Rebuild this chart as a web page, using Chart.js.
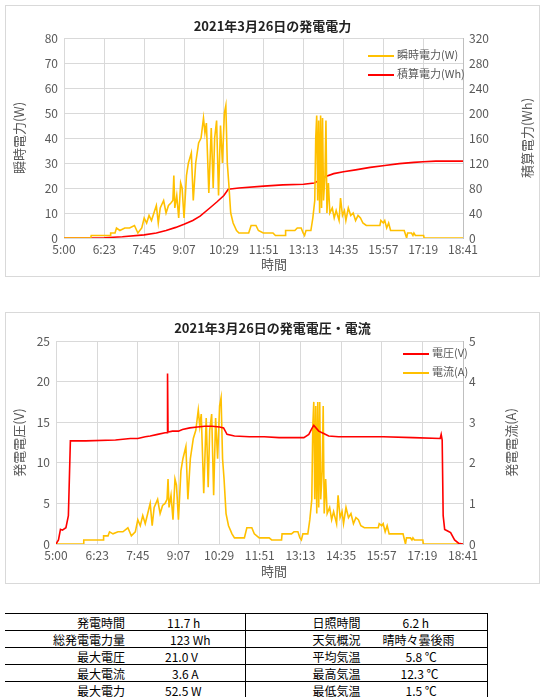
<!DOCTYPE html>
<html><head><meta charset="utf-8">
<script src="https://cdn.jsdelivr.net/npm/chart.js@4"></script>
<style>
body{margin:0;background:#fff;font-family:"Noto Sans CJK JP",sans-serif;}
.box{position:absolute;left:5px;width:533px;height:270px;border:1px solid #d9d9d9;}
canvas{position:absolute;left:0;top:0;}
.ttl{position:absolute;left:0;width:100%;text-align:center;font-size:13px;font-weight:bold;color:#222;}
.xt{position:absolute;font-size:13px;color:#595959;}
.lg{position:absolute;font-size:11px;color:#595959;}
.lg span{display:inline-block;width:26px;height:2px;vertical-align:middle;margin-right:3px;}
table{position:absolute;left:5px;top:613px;border-collapse:collapse;font-family:"Noto Sans CJK JP",sans-serif;font-size:12px;}
td{border-top:1px solid #000;height:16px;padding:0;line-height:15px;}
</style></head><body>
<div class="box" style="top:5px"><canvas id="c1" width="533" height="270"></canvas>
<div class="ttl" style="top:10px">2021年3月26日の発電電力</div>
<div class="xt" style="left:255px;top:248px">時間</div>
<div class="lg" style="left:362px;top:40px"><span style="background:#FFC000"></span>瞬時電力(W)</div>
<div class="lg" style="left:362px;top:59px"><span style="background:#FF0000"></span>積算電力(Wh)</div>
</div>
<div class="box" style="top:312px"><canvas id="c2" width="533" height="270"></canvas>
<div class="ttl" style="top:5px">2021年3月26日の発電電圧・電流</div>
<div class="xt" style="left:255px;top:248px">時間</div>
<div class="lg" style="left:397px;top:31px"><span style="background:#FF0000"></span>電圧(V)</div>
<div class="lg" style="left:397px;top:50px"><span style="background:#FFC000"></span>電流(A)</div>
</div>
<table>
<tr><td style="width:120px;text-align:right">発電時間</td><td style="width:120px;padding-left:42px;box-sizing:border-box;border-right:1px solid #000">11.7 h</td><td style="width:115px;text-align:right">日照時間</td><td style="width:127px;padding-left:42px;box-sizing:border-box;border-right:1px solid #000">6.2 h</td></tr>
<tr><td style="text-align:right">総発電電力量</td><td style="padding-left:45px;border-right:1px solid #000">123 Wh</td><td style="text-align:right">天気概況</td><td style="padding-left:22px;border-right:1px solid #000">晴時々曇後雨</td></tr>
<tr><td style="text-align:right">最大電圧</td><td style="padding-left:40px;border-right:1px solid #000">21.0 V</td><td style="text-align:right">平均気温</td><td style="padding-left:45px;border-right:1px solid #000">5.8 ℃</td></tr>
<tr><td style="text-align:right">最大電流</td><td style="padding-left:47px;border-right:1px solid #000">3.6 A</td><td style="text-align:right">最高気温</td><td style="padding-left:40px;border-right:1px solid #000">12.3 ℃</td></tr>
<tr><td style="text-align:right">最大電力</td><td style="padding-left:40px;border-right:1px solid #000">52.5 W</td><td style="text-align:right">最低気温</td><td style="padding-left:45px;border-right:1px solid #000">1.5 ℃</td></tr>
</table>
<script>
const xTickLabels=["5:00","6:23","7:45","9:07","10:29","11:51","13:13","14:35","15:57","17:19","18:41"];
const pTimes=["5:00","5:55","5:56","6:35","6:36","6:45","6:48","6:55","7:05","7:15","7:25","7:32","7:40","7:45","7:50","7:55","8:00","8:05","8:10","8:14","8:18","8:25","8:30","8:35","8:40","8:44","8:46","8:48","8:52","8:56","9:00","9:03","9:07","9:12","9:16","9:22","9:26","9:31","9:37","9:42","9:47","9:50","9:53","9:58","10:03","10:07","10:10","10:14","10:18","10:22","10:26","10:30","10:33","10:36","10:39","10:43","10:48","10:55","11:00","11:20","11:25","11:35","11:40","11:50","12:10","12:15","12:35","12:36","12:55","13:00","13:08","13:12","13:15","13:18","13:28","13:32","13:36","13:38","13:40","13:42","13:44","13:46","13:48","13:50","13:52","13:54","13:57","13:59","14:01","14:04","14:07","14:12","14:16","14:20","14:26","14:29","14:33","14:37","14:40","14:45","14:50","14:55","15:00","15:05","15:10","15:15","15:22","15:50","15:52","15:57","16:00","16:04","16:08","16:12","16:40","16:45","16:47","16:55","16:58","17:00","17:03","17:20","17:21","18:41"];
const powerW=[0,0,1,1,2,2,4,3,4,4,5,2,4,8,6,9,7,10,13,6,12,15,10,13,14,15,25,12,17,8,22,20,8,25,30,34,15,30,38,40,48,42,46,18,44,20,40,47,17,45,30,50,53,30,22,10,6,3,2,2,5,5,3,2,2,1,1,3,3,4,4,2,1,3,3,8,15,40,49,15,47,10,49,12,48,15,25,47,10,22,10,12,8,11,7,16,9,11,7,12,9,10,7,9,8,6,5,5,7,6,7,4,6,3,3,0,2,2,1,2,1,1,0,0];
const currentA=[0,0,0.1,0.1,0.2,0.2,0.3,0.25,0.3,0.3,0.4,0.2,0.3,0.6,0.45,0.7,0.5,0.75,1.0,0.45,0.9,1.1,0.75,0.95,1.0,1.1,1.6,0.9,1.2,0.6,1.6,1.45,0.6,1.8,2.1,2.4,1.1,2.1,2.6,2.8,3.3,2.9,3.2,1.25,3.1,1.4,2.8,3.2,1.2,3.1,2.1,3.4,3.6,2.1,1.6,0.75,0.45,0.25,0.15,0.15,0.4,0.4,0.25,0.15,0.15,0.1,0.1,0.25,0.25,0.3,0.3,0.15,0.1,0.25,0.25,0.6,1.1,2.9,3.5,1.1,3.4,0.75,3.5,0.9,3.5,1.1,1.8,3.4,0.75,1.6,0.75,0.9,0.6,0.8,0.5,1.2,0.65,0.8,0.5,0.9,0.65,0.75,0.5,0.65,0.6,0.45,0.4,0.4,0.5,0.45,0.5,0.3,0.45,0.25,0.25,0,0.15,0.15,0.1,0.15,0.1,0.1,0,0];
const eTimes=["5:00","6:00","6:23","7:00","7:45","8:10","8:30","8:50","9:07","9:25","9:40","10:00","10:15","10:29","10:38","11:00","11:51","12:30","13:13","13:35","13:45","14:00","14:15","14:35","15:00","15:30","16:00","16:30","17:00","17:19","17:45","18:41"];
const energyWh=[0,0,0.5,2,5,8,12,17,22,28,35,48,58,68,78,80,83,85,86,88,92,99,103,106,109,113,116,119,121,122,123,123];
const vTimes=["5:00","5:05","5:09","5:13","5:20","5:25","5:29","6:00","7:00","7:30","7:45","8:00","8:10","8:25","8:40","8:44","8:45","8:46","8:47","8:55","9:07","9:15","9:30","9:45","10:00","10:15","10:30","10:38","10:45","11:00","11:30","12:00","12:30","13:00","13:20","13:30","13:36","13:40","13:50","14:00","14:10","14:30","15:00","16:00","17:00","17:55","17:57","17:59","18:01","18:04","18:10","18:16","18:24","18:32","18:41"];
const voltageV=[0,0.5,1.8,1.7,2,3.5,12.7,12.7,12.8,13,13,13.2,13.3,13.5,13.7,13.7,21,13.8,13.8,13.9,13.9,14.1,14.3,14.4,14.5,14.5,14.4,14.3,13.5,13.3,13.2,13.2,13.1,13.1,13.1,13.5,14.2,14.6,13.9,13.6,13.3,13.2,13.2,13.2,13.1,13.0,13.5,12.8,3.5,1.8,1.6,1.4,0.5,0.1,0];
const yPowerTicks=[0,80],yEnergyTicks=[0,320],yVoltTicks=[0,25],yCurTicks=[0,5];
const tm=s=>{const [h,m]=s.split(':').map(Number);return h*60+m;};
const pts=(t,v)=>t.map((s,i)=>({x:tm(s),y:v[i]}));
const tickVals=xTickLabels.map(tm);
const FONT={family:'"Noto Sans CJK JP",sans-serif',size:12};
const GRID='#d9d9d9',TXT='#595959';
function xAxis(){return{type:'linear',min:tm(xTickLabels[0]),max:tm(xTickLabels[10]),
 afterBuildTicks:a=>{a.ticks=tickVals.map(v=>({value:v}));},
 ticks:{autoSkip:false,maxRotation:0,color:TXT,font:FONT,padding:4,callback:(v)=>xTickLabels[tickVals.indexOf(v)]},
 grid:{color:GRID,drawTicks:false},border:{color:GRID},afterFit:a=>{a.height=38;}};}
function yAx(pos,rng,step,w,grid){return{position:pos,min:rng[0],max:rng[1],ticks:{stepSize:step,color:TXT,font:FONT,padding:6},
 grid:{display:grid,color:GRID,drawTicks:false},border:{display:true,color:pos==='right'?'#bfbfbf':GRID},afterFit:a=>{a.width=w;}};}
const titlePlugin={id:'ytitles',afterDraw(c,args,o){const x=c.ctx;x.save();x.fillStyle=TXT;x.font='13px "Noto Sans CJK JP"';x.textAlign='center';x.textBaseline='middle';
 const cy=(c.chartArea.top+c.chartArea.bottom)/2;
 [[o.lx,o.l],[o.rx,o.r]].forEach(([px,t])=>{x.save();x.translate(px,cy);x.rotate(-Math.PI/2);x.fillText(t,0,0);x.restore();});x.restore();}};
const ln=(lbl,data,col,ax)=>({label:lbl,data,borderColor:col,backgroundColor:col,borderWidth:1.6,pointRadius:0,tension:0,yAxisID:ax});
new Chart(document.getElementById('c1'),{type:'line',plugins:[titlePlugin],
 data:{datasets:[ln('瞬時電力(W)',pts(pTimes,powerW),'#FFC000','y'),ln('積算電力(Wh)',pts(eTimes,energyWh),'#FF0000','y2')]},
 options:{responsive:false,animation:false,devicePixelRatio:1,layout:{padding:{top:32,left:0,right:0,bottom:0}},
  plugins:{legend:{display:false},tooltip:{enabled:false},ytitles:{l:'瞬時電力(W)',lx:13,r:'積算電力(Wh)',rx:521}},
  scales:{x:xAxis(),y:yAx('left',yPowerTicks,10,58,true),y2:yAx('right',yEnergyTicks,40,76,false)}}});
new Chart(document.getElementById('c2'),{type:'line',plugins:[titlePlugin],
 data:{datasets:[ln('電圧(V)',pts(vTimes,voltageV),'#FF0000','y'),ln('電流(A)',pts(pTimes,currentA),'#FFC000','y2')]},
 options:{responsive:false,animation:false,devicePixelRatio:1,layout:{padding:{top:28,left:0,right:0,bottom:1}},
  plugins:{legend:{display:false},tooltip:{enabled:false},ytitles:{l:'発電電圧(V)',lx:13,r:'発電電流(A)',rx:505}},
  scales:{x:xAxis(),y:yAx('left',yVoltTicks,5,50,true),y2:yAx('right',yCurTicks,1,76,false)}}});
</script>
</body></html>
